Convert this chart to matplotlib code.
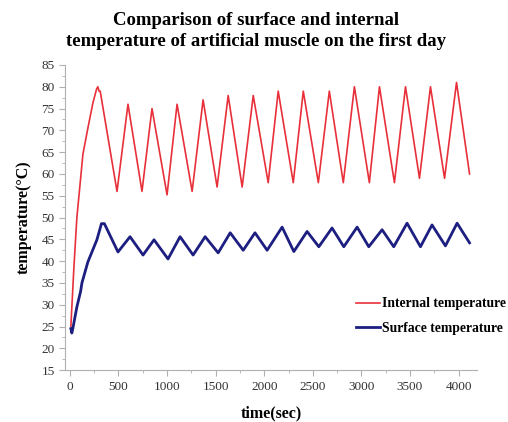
import matplotlib
matplotlib.use('Agg')
import matplotlib.pyplot as plt
from matplotlib.ticker import MultipleLocator

# internal temperature (red), vertices
internal_time = [10, 40, 72, 134, 185, 237, 275, 288, 300, 312, 485, 598, 742, 845,
                 1000, 1103, 1258, 1371, 1515, 1629, 1773, 1887, 2041, 2144, 2299,
                 2402, 2557, 2670, 2814, 2928, 3082, 3186, 3340, 3454, 3598, 3711,
                 3856, 3979, 4113]
internal_temp = [25, 38, 50, 64.5, 70.5, 76.3, 79.5, 80, 79, 79, 56, 76, 56, 75,
                 55.2, 76, 56, 77, 57, 78, 57, 78, 58, 79, 58,
                 79, 58, 79, 58, 80, 58, 80, 58, 80, 59, 80,
                 59, 81, 60]

# surface temperature (blue)
surface_time = [10, 20, 30, 72, 110, 124, 185, 278, 325, 355, 495, 619, 753, 866,
                1010, 1134, 1268, 1392, 1526, 1650, 1784, 1905, 2030, 2184, 2305,
                2441, 2562, 2698, 2819, 2956, 3076, 3213, 3333, 3470, 3608, 3727,
                3865, 3985, 4113]
surface_temp = [24.5, 23.5, 24.5, 29.5, 33, 35, 39.8, 44.9, 48.6, 48.6, 42.1, 45.6, 41.4, 44.9,
                40.5, 45.6, 41.4, 45.6, 41.9, 46.5, 42.5, 46.5, 42.5, 47.8, 42.2,
                46.8, 43.3, 47.6, 43.3, 47.8, 43.3, 47.2, 43.3, 48.7, 43.3, 48.3,
                43.5, 48.7, 44.2]

plt.rcParams['font.family'] = 'Liberation Serif'

fig = plt.figure(figsize=(5.08, 4.22), dpi=100)
ax = fig.add_axes([0.128, 0.123, 0.811, 0.723])

ax.plot(internal_time, internal_temp, color='#e8303a', lw=1.2, label='Internal temperature')
ax.plot(surface_time, surface_temp, color='#1c1f80', lw=2.0, label='Surface temperature')

ax.set_xlim(-50, 4190)
ax.set_ylim(15, 85)
ax.xaxis.set_major_locator(MultipleLocator(500))
ax.xaxis.set_minor_locator(MultipleLocator(250))
ax.yaxis.set_major_locator(MultipleLocator(5))
ax.yaxis.set_minor_locator(MultipleLocator(2.5))

for side in ['top', 'right']:
    ax.spines[side].set_visible(False)
for side in ['left', 'bottom']:
    ax.spines[side].set_color('#b0b0b0')
    ax.spines[side].set_linewidth(0.8)
ax.tick_params(which='major', length=4, width=0.8, color='#b0b0b0',
               labelsize=9.5, labelcolor='#333333')
ax.tick_params(which='minor', length=2, width=0.6, color='#b0b0b0')

ax.set_xlabel('time(sec)', fontsize=11.5, fontweight='bold', labelpad=9)
ax.set_ylabel('temperature(\u00b0C)', fontsize=11.5, fontweight='bold', labelpad=7)

fig.text(0.504, 0.972, 'Comparison of surface and internal\ntemperature of artificial muscle on the first day',
         ha='center', va='top', fontsize=13.5, fontweight='bold', linespacing=1.3)

# the reference crops the legend at the right edge; shrunk a little so it fits
ax.legend(loc='upper left', bbox_to_anchor=(0.694, 0.256), frameon=False,
          prop={'weight': 'bold', 'size': 9.8}, handlelength=1.7, handletextpad=0.2,
          labelspacing=0.85, borderaxespad=0)

fig.savefig('out.png', dpi=100)
